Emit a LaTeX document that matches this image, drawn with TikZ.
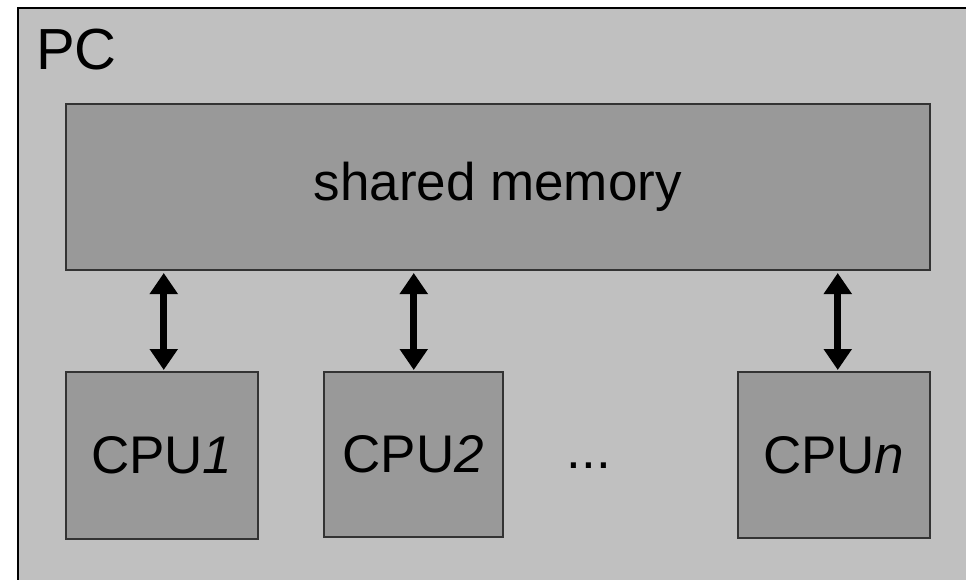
\documentclass[tikz,border=0pt]{standalone}
\usepackage{fontspec}
\setmainfont{Liberation Sans}
\usetikzlibrary{arrows.meta}
\definecolor{outerfill}{HTML}{C0C0C0}
\definecolor{innerfill}{HTML}{999999}
\definecolor{innerline}{HTML}{333333}
\begin{document}
\begin{tikzpicture}[x=1pt,y=1pt,
  bigtext/.style={font=\fontsize{53}{60}\selectfont},
  boxstyle/.style={draw=innerline, line width=1.5pt, fill=innerfill, inner sep=0pt, bigtext},
  biarrow/.style={line width=7pt, {Triangle[width=27pt,length=21pt]}-{Triangle[width=27pt,length=21pt]}, shorten <=2.5pt, shorten >=1pt}
]
\useasboundingbox (0,0) rectangle (966,-579);
\clip (0,0) rectangle (966,-579);
\node[draw=black, line width=2pt, fill=outerfill, minimum width=960pt, minimum height=590pt, anchor=north west, inner sep=0pt] (pc) at (17,-7) {};
\node[font=\fontsize{58}{64}\selectfont, anchor=base west, inner sep=0pt] (pclabel) at (36,-69) {PC};
\node[boxstyle, minimum width=864pt, minimum height=166pt, anchor=north west] (mem) at (65,-103) {shared memory};
\node[boxstyle, minimum width=192pt, minimum height=167pt, anchor=north west] (cpu1) at (65,-371) {CPU\textit{1}};
\node[boxstyle, minimum width=179pt, minimum height=165pt, anchor=north west] (cpu2) at (323,-371) {CPU\textit{2}};
\node[boxstyle, minimum width=192pt, minimum height=166pt, anchor=north west] (cpun) at (737,-371) {CPU\textit{n}};
\node[bigtext, anchor=base, inner sep=0pt] (dots) at (589,-468) {...};
\coordinate (a1) at ([xshift=2pt]cpu1.north);
\coordinate (a2) at ([xshift=0.5pt]cpu2.north);
\coordinate (an) at ([xshift=4pt]cpun.north);
\draw[biarrow] (a1 |- mem.south) -- (a1);
\draw[biarrow] (a2 |- mem.south) -- (a2);
\draw[biarrow] (an |- mem.south) -- (an);
\end{tikzpicture}
\end{document}
